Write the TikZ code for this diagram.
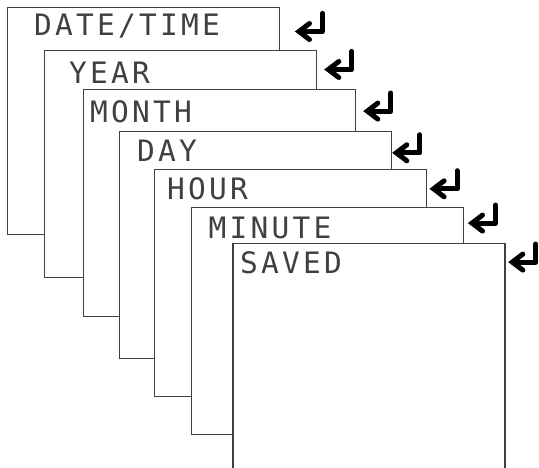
\documentclass[tikz,border=0pt]{standalone}
\usepackage{fontspec}
\newfontfamily\lcd[LetterSpace=11]{DejaVu Sans Mono}
\tikzset{
  panel/.style={draw=black!75, line width=1.3pt, fill=white, anchor=north west,
    minimum width=272pt, minimum height=227pt, inner sep=0pt},
  lcdtext/.style={anchor=base west, inner sep=0pt, text=black!75,
    font=\lcd\fontsize{29.5pt}{29.5pt}\selectfont},
  ret/.pic={
    \draw[line width=5.2pt, line cap=round, line join=round] (0,-18) -- (0,0) -- (-22,0);
    \draw[line width=5pt, line cap=round, line join=miter] (-13,-8) -- (-23.5,0) -- (-13,8);
  }
}
\begin{document}
\begin{tikzpicture}[x=1pt,y=-1pt]
\useasboundingbox (0,0) rectangle (539,467);
\clip (0,0) rectangle (539,467);
% panels
\node[panel] (b1) at (7,7) {};
\node[lcdtext] (t1) at (34,35) {DATE/TIME};
\pic (a1) at (322.5,31.5) {ret};
\node[panel] (b2) at (44,50) {};
\node[lcdtext] (t2) at (69,83) {YEAR};
\pic (a2) at (351.8,69.5) {ret};
\node[panel] (b3) at (83,89) {};
\node[lcdtext] (t3) at (90,122) {MONTH};
\pic (a3) at (390.8,111.1) {ret};
\node[panel] (b4) at (119,131) {};
\node[lcdtext] (t4) at (137,161.7) {DAY};
\pic (a4) at (419.8,152.8) {ret};
\node[panel] (b5) at (153.5,169) {};
\node[lcdtext] (t5) at (167,199.7) {HOUR};
\pic (a5) at (457.1,188.8) {ret};
\node[panel] (b6) at (190.7,207) {};
\node[lcdtext] (t6) at (208.5,238) {MINUTE};
\pic (a6) at (495.5,223.1) {ret};
\node[panel] (b7) at (232.3,243) {};
\node[lcdtext] (t7) at (240,273) {SAVED};
\pic (a7) at (535.8,262.1) {ret};
\end{tikzpicture}
\end{document}
